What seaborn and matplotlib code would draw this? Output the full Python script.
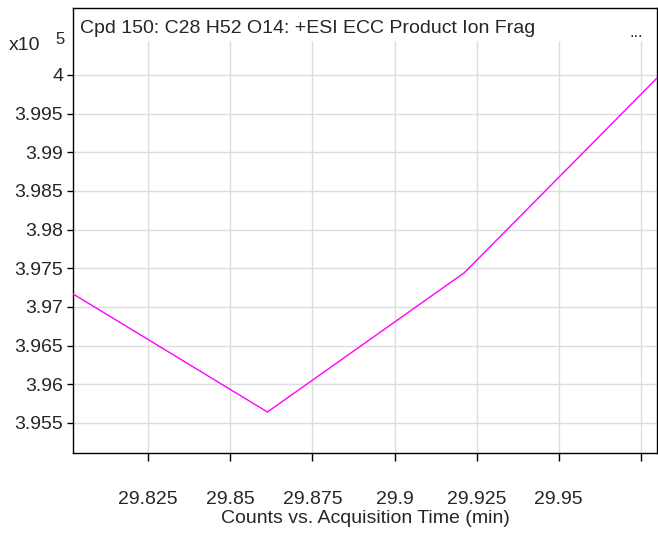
import numpy as np
import pandas as pd
import matplotlib
matplotlib.use("Agg")
import matplotlib.pyplot as plt
import seaborn as sns

# datos
tiempo = [29.8013, 29.8613, 29.9213, 29.9813]
cuentas = [397190, 395642, 397445, 400020]
xticks = [29.825, 29.85, 29.875, 29.9, 29.925, 29.95, 29.975]
xlabels = ["29.825", "29.85", "29.875", "29.9", "29.925", "29.95", ""]
yticks = [3.955, 3.96, 3.965, 3.97, 3.975, 3.98, 3.985, 3.99, 3.995, 4.0]
ylabels = ["3.955", "3.96", "3.965", "3.97", "3.975", "3.98", "3.985", "3.99", "3.995", "4"]

sns.set_style("white")
plt.rcParams['font.family'] = ['Liberation Sans', 'DejaVu Sans']
fs = 14

df = pd.DataFrame({"t": tiempo, "c": np.array(cuentas) / 1e5})

fig = plt.figure(figsize=(6.58, 5.33), dpi=100)
ax = fig.add_axes([73/658, 80/533, 584/658, 445/533])

sns.lineplot(data=df, x="t", y="c", sort=False, color="#ff00ff", linewidth=1, ax=ax, zorder=3)

ax.set_xlim(29.8021, 29.9799)
ax.set_ylim(3.95112, 4.00866)
ax.set_xticks(xticks)
ax.set_xticklabels(xlabels, fontsize=fs)
ax.set_yticks(yticks)
ax.set_yticklabels(ylabels, fontsize=fs)
ax.tick_params(axis="x", direction="out", length=6, width=1, color="black", pad=21, bottom=True)
ax.tick_params(axis="y", direction="out", length=4, width=1, color="black", pad=3, left=True)
ax.grid(True, color="#dddddd", linewidth=1)
ax.set_axisbelow(True)
for s in ax.spines.values():
    s.set_color("black")
    s.set_linewidth(1)
ax.set_xlabel("Counts vs. Acquisition Time (min)", fontsize=fs, labelpad=2)
ax.set_ylabel("")

# tapa la rejilla donde va el titulo
ax.axhspan(4.0045, 4.00866, color="white", zorder=1)

ax.text(0.012, 0.972, "Cpd 150: C28 H52 O14: +ESI ECC Product Ion Frag",
        transform=ax.transAxes, ha="left", va="top", fontsize=fs, zorder=4)
ax.text(0.965, 0.962, "...", transform=ax.transAxes, ha="center", va="top", fontsize=12, zorder=4)
fig.text(9/658, 1 - 46/533, "x10", ha="left", va="center", fontsize=fs)
fig.text(55/658, 1 - 40/533, "5", ha="left", va="center", fontsize=12)

fig.savefig("out.png", dpi=100)
